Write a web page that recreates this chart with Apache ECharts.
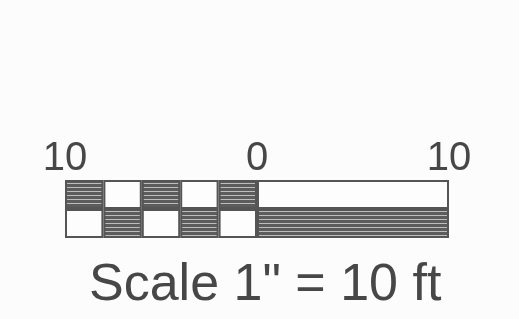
<!DOCTYPE html>
<html>
<head>
<meta charset="utf-8">
<script src="https://cdn.jsdelivr.net/npm/echarts@6/dist/echarts.min.js"></script>
<style>
  html, body { margin: 0; padding: 0; background: #fcfcfc; }
  #chart { width: 519px; height: 319px; }
</style>
</head>
<body>
<div id="chart"></div>
<script>
// scale bar: 10 ft to the left of 0 split in 2 ft pieces, 10 ft to the right in one piece
const tickValues = [0, 10, 20]
const tickLabels = ['10', '0', '10']
const segmentWidths = [2, 2, 2, 2, 2, 10]
const topHatched = [1, 0, 1, 0, 1, 0]
const bottomHatched = [0, 1, 0, 1, 0, 1]
const rows = ['bottom', 'top']
const caption = 'Scale 1" = 10 ft'

// horizontal line texture for the dark cells
let cv = document.createElement('canvas')
cv.width = 8
cv.height = 4
let ctx = cv.getContext('2d')
ctx.fillStyle = '#5c5c5c'
ctx.fillRect(0, 0, 8, 4)
ctx.fillStyle = '#bdbdbd'
ctx.fillRect(0, 3, 8, 1)
const hatch = { image: cv, repeat: 'repeat' }

function cell(w, h) {
  return {
    value: w,
    itemStyle: { color: h ? hatch : '#fdfdfd' }
  }
}

let seriesData = []
for (let i = 0; i < segmentWidths.length; i++) {
  seriesData.push({
    type: 'bar',
    stack: 'scale',
    barWidth: '100%',
    silent: true,
    itemStyle: { borderColor: '#555555', borderWidth: 2 },
    data: [cell(segmentWidths[i], bottomHatched[i]), cell(segmentWidths[i], topHatched[i])]
  })
}

let HChart = echarts.init(document.getElementById('chart'))
let option = {
  backgroundColor: '#fcfcfc',
  animation: false,
  title: {
    text: caption,
    left: 84,
    top: 255,
    textStyle: {
      fontFamily: 'Liberation Sans, Arial, sans-serif',
      fontSize: 52,
      fontWeight: 'normal',
      color: '#474747'
    }
  },
  grid: { left: 65, right: 70, top: 180, height: 58 },
  xAxis: {
    type: 'value',
    position: 'top',
    min: 0,
    max: 20,
    interval: 10,
    axisLine: { show: false },
    axisTick: { show: false },
    splitLine: { show: false },
    axisLabel: {
      margin: 1,
      fontFamily: 'Liberation Sans, Arial, sans-serif',
      fontSize: 40,
      color: '#474747',
      formatter: function (v) {
        let k = tickValues.indexOf(v)
        return k >= 0 ? tickLabels[k] : ''
      }
    }
  },
  yAxis: {
    type: 'category',
    data: rows,
    show: false
  },
  series: seriesData
}
HChart.setOption(option)
</script>
</body>
</html>
